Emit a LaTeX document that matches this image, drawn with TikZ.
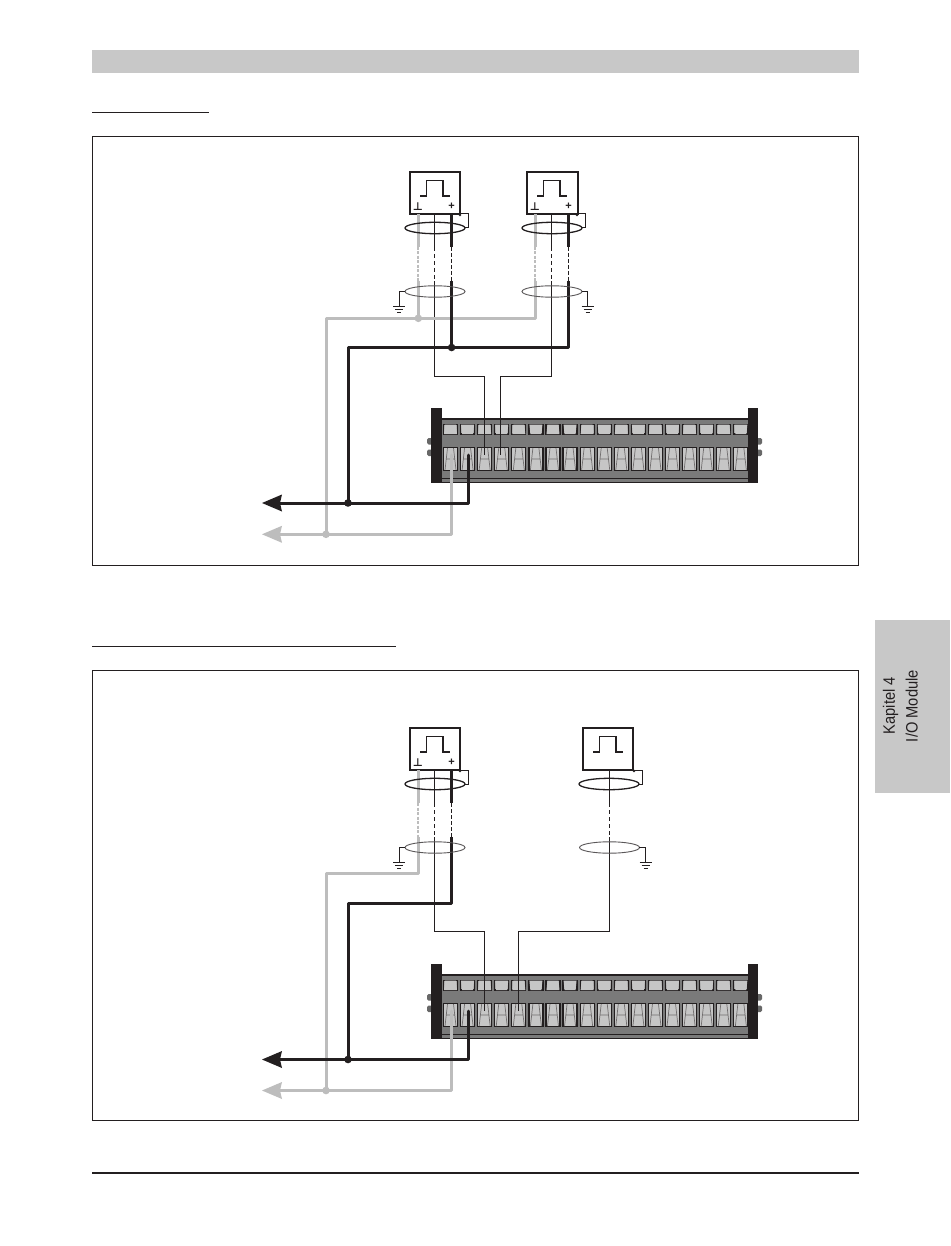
\documentclass[tikz,border=0pt]{standalone}
\usepackage{fontspec}
\setmainfont{Liberation Sans}
\newfontfamily\symfont{DejaVu Sans}
\definecolor{wgray}{HTML}{BDBDBD}
\definecolor{wblack}{HTML}{231F20}
\definecolor{band}{HTML}{C8C8C8}
\definecolor{body}{HTML}{7A7A7A}
\definecolor{lug}{HTML}{C6C6C6}
\tikzset{
  x=1pt,y=-1pt,
  thinw/.style={draw=wblack,line width=1pt},
  thickb/.style={draw=wblack,line width=3pt},
  thickg/.style={draw=wgray,line width=3pt},
  dashb/.style={draw=wblack,line width=1pt,dash pattern=on 4pt off 3pt},
  dashg/.style={draw=wgray,line width=2.2pt,dash pattern=on 3pt off 1.5pt},
  dashk/.style={draw=wblack,line width=1.4pt,dash pattern=on 4pt off 2pt},
  labp/.style={inner sep=0pt,font=\symfont\fontsize{11}{11}\bfseries\selectfont,text=wblack},
  labq/.style={inner sep=0pt,font=\fontsize{11}{11}\bfseries\selectfont,text=wblack},
  tab/.style={inner sep=0pt,rotate=90,font=\fontsize{16.5}{17}\selectfont,text=wblack},
}
% pulse box: #1 name, #2 left x, #3 top y, #4 width
\newcommand{\pulsebox}[4]{%
  \draw[thinw,line width=1.1pt] (#2,#3) rectangle ++(#4,42);
  \draw[thinw,line width=1.1pt] (#2+10,#3+24) -- ++(6.5,0) -- ++(0,-15.5) -- ++(16.5,0) -- ++(0,15.5) -- ++(7,0);
  \coordinate (#1) at (#2,#3);
}
% shield rings: #1 centre x, #2 top y of box
\newcommand{\upring}[2]{%
  \draw[wblack,line width=1.3pt] (#1,#2+56) ellipse [x radius=30,y radius=5.7];
  \fill[wblack] (#1+25,#2+43) circle (1.4);
  \draw[thinw] (#1+25,#2+42) -- (#1+33,#2+42) -- (#1+33,#2+56) -- (#1+30,#2+56);
}
\newcommand{\lowring}[2]{%
  \draw[wblack!75,line width=0.9pt] (#1,#2) ellipse [x radius=30,y radius=5.7];
}
% ground: #1 from x at ring, #2 ground x, #3 y
\newcommand{\gnd}[3]{%
  \draw[thinw,line width=.8pt] (#1,#3) -- (#2,#3) -- (#2,#3+15);
  \draw[thinw,line width=.9pt] (#2-6,#3+15) -- (#2+6,#3+15) (#2-4,#3+18) -- (#2+4,#3+18) (#2-2,#3+21) -- (#2+2,#3+21);
}
% terminal block: #1 y offset
\newcommand{\block}[1]{%
  \begin{scope}[yshift=-#1pt]
  \fill[body] (442,418) rectangle (748,483);
  \draw[wblack,line width=1.3pt] (442,419) -- (748,419);
  \draw[wblack,line width=.8pt] (442,478) -- (748,478);
  \draw[wblack,line width=.9pt] (442,482.5) -- (748,482.5);
  \foreach \yy in {438,449.5}{
    \fill[body!85!black,rounded corners=1.5pt] (427,\yy) rectangle (434,\yy+6.5);
    \fill[body!85!black,rounded corners=1.5pt] (755,\yy) rectangle (762,\yy+6.5);
  }
  \fill[wblack] (431,408) rectangle (442,483);
  \fill[wblack] (748,408) rectangle (758,483);
  \foreach \i in {0,...,17}{
    \pgfmathsetmacro{\xa}{443.5+17.08*\i}
    \pgfmathsetmacro{\ins}{mod(\i,2)==0 ? 1.5 : 0.5}
    \pgfmathsetmacro{\inb}{mod(\i,2)==0 ? 0.5 : 1.5}
    \draw[wblack,line width=1.2pt,fill=lug!85!black] (\xa,424.5) rectangle ++(14,9.5);
    \fill[lug] (\xa+\ins,424.5) -- (\xa+14-\ins,424.5) -- (\xa+14-\inb,434) -- (\xa+\inb,434) -- cycle;
    \draw[wblack,line width=1.2pt,fill=lug] (\xa,447.5) rectangle ++(14,23);
    \draw[wblack!65,line width=.7pt] (\xa+4,448) -- (\xa+1.5,470) (\xa+10,448) -- (\xa+12.5,470) (\xa+3,459) -- (\xa+11,459);
  }
  \end{scope}
}
\newcommand{\arrowhead}[3]{%
  \fill[#1] (#2,#3) -- (#2+20,#3-8.5) -- (#2+18,#3) -- (#2+20,#3+8.5) -- cycle;
}
\begin{document}
\begin{tikzpicture}
\useasboundingbox (0,0) rectangle (950,1246);
\fill[white] (0,0) rectangle (950,1246);
% page furniture
\fill[band] (92,50) rectangle (858.5,73.5);
\draw[wblack,line width=1pt] (92,113) -- (209,113);
\draw[wblack,line width=1pt] (92,646) -- (396,646);
\draw[wblack,line width=2pt] (92,1173) -- (858.5,1173);
\fill[band] (875,620) rectangle (950,793);
\node[tab,anchor=south east] (t1) at (898.5,677) {\scalebox{.89}[1]{Kapitel 4}};
\node[tab,anchor=south east] (t2) at (918,670) {\scalebox{.89}[1]{I/O Module}};
\draw[wblack,line width=1pt] (92.5,137) rectangle (858,565);
\draw[wblack,line width=1pt] (92.5,670.5) rectangle (858,1120);
%%% ---- upper panel
\block{0}
\pulsebox{sa}{410}{172}{50}
\pulsebox{sb}{527}{172}{51}
\node[labp] (pa1) at (418,206.5) {⊥};
\node[labq] (pa2) at (451.5,206.5) {+};
\node[labp] (pb1) at (535,206.5) {⊥};
\node[labq] (pb2) at (568.5,206.5) {+};
% thin signal lines
\draw[thinw] (434.3,214) -- (434.3,247) (434.3,281) -- (434.3,376) -- (484,376) -- (484,455);
\draw[thinw] (551.5,214) -- (551.5,247) (551.5,281) -- (551.5,376) -- (500,376) -- (500,455);
\draw[dashb] (434.3,247) -- (434.3,281);
\draw[dashb] (551.5,247) -- (551.5,281);
% gray
\draw[thickg] (418.3,214) -- (418.3,247);
\draw[dashg] (418.3,247) -- (418.3,281);
\draw[thickg] (418.3,281) -- (418.3,318);
\draw[thickg] (535.3,214) -- (535.3,247);
\draw[dashg] (535.3,247) -- (535.3,281);
\draw[thickg,line join=round] (535.3,281) -- (535.3,318.3) -- (326,318.3) -- (326,534.3);
\draw[thickg,line join=round,line cap=round] (451.5,455) -- (451.5,534.3) -- (280,534.3);
\arrowhead{wgray}{262}{534.3}
\fill[wgray] (418.3,318.3) circle (3.8);
\fill[wgray] (326,534.3) circle (3.8);
% black
\draw[thickb] (451.6,214) -- (451.6,247);
\draw[dashk] (451.6,247) -- (451.6,281);
\draw[thickb] (451.6,281) -- (451.6,347.5);
\draw[thickb] (568.6,214) -- (568.6,247);
\draw[dashk] (568.6,247) -- (568.6,281);
\draw[thickb,line join=round] (568.6,281) -- (568.6,347.5) -- (348,347.5) -- (348,503);
\draw[thickb,line join=round,line cap=round] (468,455) -- (468,503) -- (280,503);
\arrowhead{wblack}{262}{503}
\fill[wblack] (451.6,347.5) circle (3.8);
\fill[wblack] (348,503) circle (3.8);
% rings
\upring{435}{172}
\upring{552}{172}
\lowring{435}{291.5}
\lowring{552}{291.5}
\gnd{405}{399}{291.5}
\gnd{582}{587.5}{291.5}
%%% ---- lower panel
\block{556}
\pulsebox{sc}{410}{728}{50}
\pulsebox{sd}{583}{728}{50}
\node[labp] (pc1) at (418,762.5) {⊥};
\node[labq] (pc2) at (451.5,762.5) {+};
\draw[thinw] (434.3,770) -- (434.3,803) (434.3,837) -- (434.3,931) -- (484,931) -- (484,1011);
\draw[dashb] (434.3,803) -- (434.3,837);
\draw[thinw] (609.5,770) -- (609.5,803) (609.5,837) -- (609.5,931) -- (518.5,931) -- (518.5,1011);
\draw[dashb] (609.5,803) -- (609.5,837);
\draw[thickg] (418.3,770) -- (418.3,803);
\draw[dashg] (418.3,803) -- (418.3,837);
\draw[thickg,line join=round] (418.3,837) -- (418.3,873.5) -- (326,873.5) -- (326,1090.5);
\draw[thickg,line join=round,line cap=round] (451.5,1011) -- (451.5,1090.5) -- (280,1090.5);
\arrowhead{wgray}{262}{1090.5}
\fill[wgray] (326,1090.5) circle (3.8);
\draw[thickb] (451.6,770) -- (451.6,803);
\draw[dashk] (451.6,803) -- (451.6,837);
\draw[thickb,line join=round] (451.6,837) -- (451.6,903.5) -- (348,903.5) -- (348,1059.5);
\draw[thickb,line join=round,line cap=round] (468,1011) -- (468,1059.5) -- (280,1059.5);
\arrowhead{wblack}{262}{1059.5}
\fill[wblack] (348,1059.5) circle (3.8);
\upring{435}{728}
\upring{609}{728}
\lowring{435}{847.5}
\lowring{609.5}{847.5}
\gnd{405}{399}{847.5}
\gnd{639}{645.5}{847.5}
\end{tikzpicture}
\end{document}
